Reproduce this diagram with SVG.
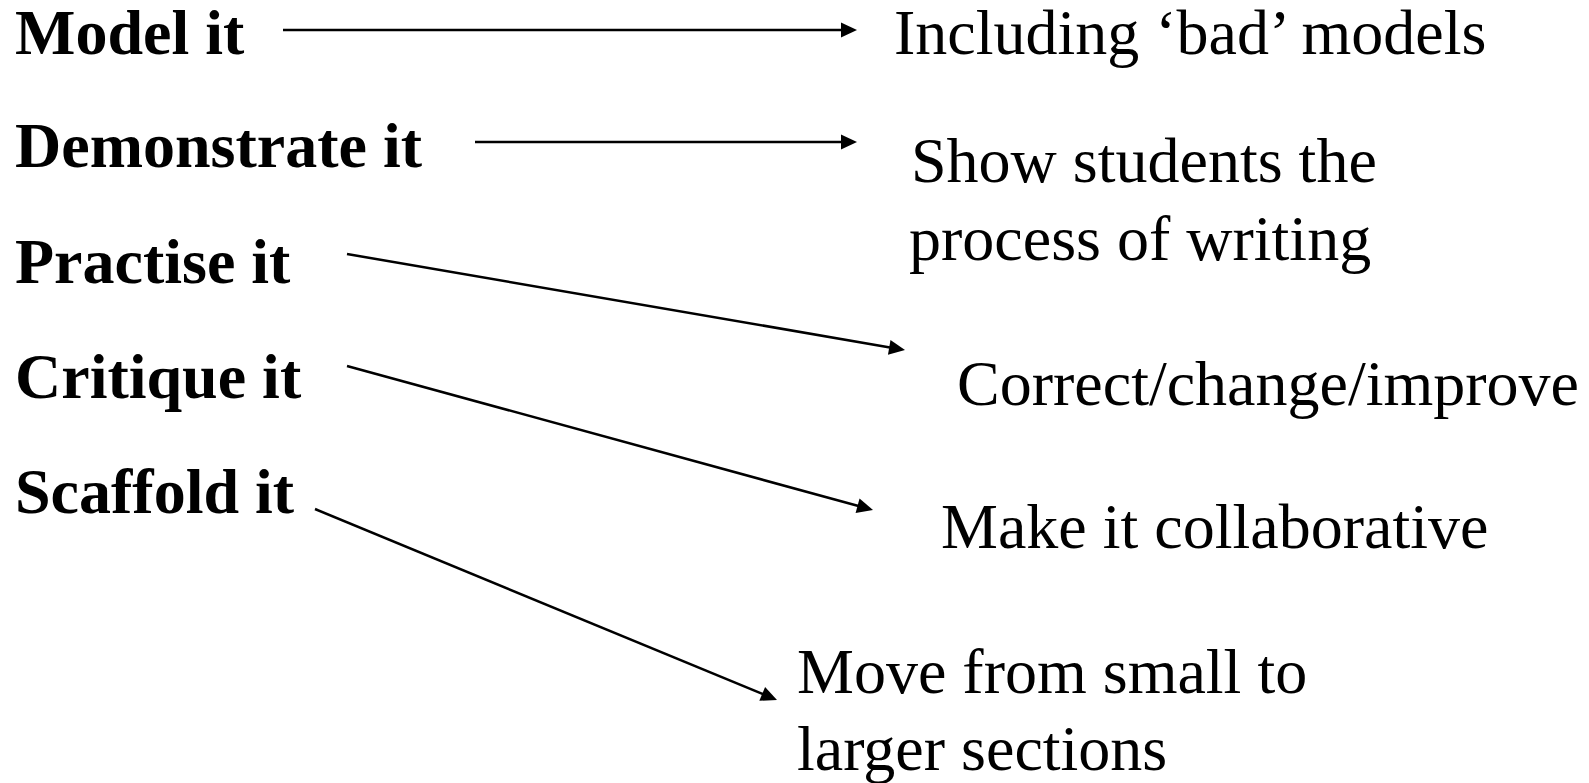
<svg xmlns="http://www.w3.org/2000/svg" width="1589" height="783" viewBox="0 0 1589 783">
<style>
text { font-family: "Liberation Serif", "Times New Roman", serif; font-size: 64px; fill: #000; }
.b { font-weight: bold; }
.conn line { stroke: #000; stroke-width: 2.5; }
.conn polygon { fill: #000; stroke: none; }
</style>
<rect width="1589" height="783" fill="#fff"/>
<g id="model-it"><text class="b" x="15" y="54">Model it</text></g>
<g id="demonstrate-it"><text class="b" x="15" y="167">Demonstrate it</text></g>
<g id="practise-it"><text class="b" x="15" y="283">Practise it</text></g>
<g id="critique-it"><text class="b" x="15" y="398">Critique it</text></g>
<g id="scaffold-it"><text class="b" x="15" y="513">Scaffold it</text></g>
<g id="including-bad-models"><text x="894" y="54">Including ‘bad’ models</text></g>
<g id="show-students"><text x="911" y="182">Show students the</text><text x="909" y="260">process of writing</text></g>
<g id="correct-change-improve"><text x="957" y="405">Correct/change/improve</text></g>
<g id="make-it-collaborative"><text x="941" y="548">Make it collaborative</text></g>
<g id="move-small-larger"><text x="797" y="693">Move from small to</text><text x="797" y="770">larger sections</text></g>
<g id="connectors" class="conn">
<line x1="283" y1="30" x2="842" y2="30"/>
<polygon points="857,30 841,22.5 841,37.5"/>
<line x1="475" y1="142" x2="842" y2="142"/>
<polygon points="857,142 841,134.5 841,149.5"/>
<line x1="347" y1="254" x2="890" y2="347.4"/>
<polygon points="905,350 887.96,354.68 890.5,339.9"/>
<line x1="347" y1="366" x2="858.5" y2="506"/>
<polygon points="873,510 855.59,513.01 859.55,498.55"/>
<line x1="315" y1="509" x2="763" y2="694.2"/>
<polygon points="777,700 759.34,700.82 765.08,686.96"/>
</g>
</svg>
